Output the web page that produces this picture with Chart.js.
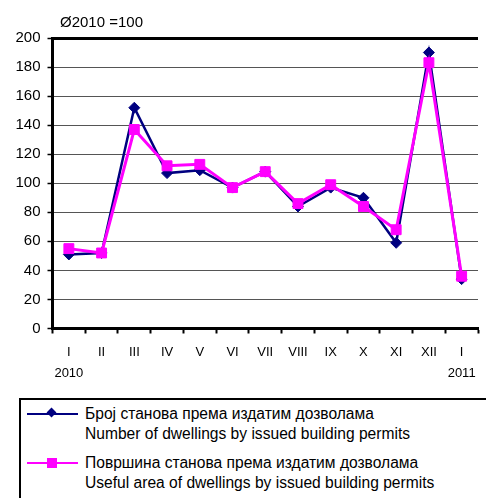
<!DOCTYPE html>
<html>
<head>
<meta charset="utf-8">
<script src="https://cdn.jsdelivr.net/npm/chart.js@4"></script>
<style>
  html, body { margin:0; padding:0; background:#fff; }
  #wrap { position:relative; width:486px; height:498px; overflow:hidden; font-family:"Liberation Sans", Arial, sans-serif; }
  #cbox { position:absolute; left:0; top:0; width:486px; height:398px; }
  #title { position:absolute; left:60px; top:13px; font-size:15px; color:#000; white-space:nowrap; }
  #legend { position:absolute; left:19px; top:398px; width:500px; height:130px; border:2px solid #000; box-sizing:border-box; }
  .entry { position:absolute; left:6px; }
  .sline { position:absolute; left:0; width:51px; }
  .txt { position:absolute; left:58px; font-size:15.6px; line-height:20.5px; white-space:nowrap; color:#000; }
  .mk { position:absolute; }
</style>
</head>
<body>
<div id="wrap">
  <div id="cbox"><canvas id="c"></canvas></div>
  <div id="title">Ø2010 =100</div>
  <div id="legend">
    <div class="entry" style="top:0px">
      <div class="sline" style="top:13px;height:2px;background:#000080"></div>
      <div class="mk" style="left:21px;top:9px;width:7px;height:7px;background:#000080;transform:rotate(45deg)"></div>
      <div class="txt" style="top:3.5px">Број станова према издатим дозволама<br>Number of dwellings by issued building permits</div>
    </div>
    <div class="entry" style="top:49px">
      <div class="sline" style="top:13px;height:2px;background:#FF00FF"></div>
      <div class="mk" style="left:20px;top:9px;width:10px;height:10px;background:#FF00FF"></div>
      <div class="txt" style="top:3.5px">Површина станова према издатим дозволама<br>Useful area of dwellings by issued building permits</div>
    </div>
  </div>
</div>
<script>
const categories = [["I","2010"],"II","III","IV","V","VI","VII","VIII","IX","X","XI","XII",["I","2011"]];
const dwellingsNumber = [51, 52, 152, 107, 109, 97, 108, 84, 97, 90, 59, 190, 34];
const dwellingsArea = [55, 52, 137, 112, 113, 97, 108, 86, 99, 84, 68, 183, 36];
const seriesNames = [
  "Број станова према издатим дозволама / Number of dwellings by issued building permits",
  "Површина станова према издатим дозволама / Useful area of dwellings by issued building permits"
];
const yMin = 0, yMax = 200, yStep = 20;

new Chart(document.getElementById('c'), {
  type: 'line',
  data: {
    labels: categories,
    datasets: [
      {
        label: seriesNames[0],
        data: dwellingsNumber,
        borderColor: '#000080',
        backgroundColor: '#000080',
        borderWidth: 2.5,
        pointStyle: 'rectRot',
        pointRadius: 5.5,
        pointBorderWidth: 1,
        tension: 0,
        order: 2
      },
      {
        label: seriesNames[1],
        data: dwellingsArea,
        borderColor: '#FF00FF',
        backgroundColor: '#FF00FF',
        borderWidth: 3,
        pointStyle: 'rect',
        pointRadius: 7,
        pointBorderWidth: 1,
        tension: 0,
        order: 1
      }
    ]
  },
  options: {
    responsive: true,
    maintainAspectRatio: false,
    animation: false,
    layout: { padding: { top: 38, left: 0, right: 0, bottom: 0 } },
    plugins: { legend: { display: false }, tooltip: { enabled: false }, title: { display: false } },
    scales: {
      x: {
        offset: true,
        grid: { offset: true, drawOnChartArea: false, drawTicks: true, tickLength: 5, tickColor: '#000', tickWidth: 2 },
        border: { color: '#000', width: 3 },
        ticks: { color: '#000', font: { family: 'Liberation Sans', size: 13, lineHeight: 1.6 }, padding: 9, maxRotation: 0, autoSkip: false },
        afterFit: (s) => { s.height = 69.5; }
      },
      y: {
        min: yMin, max: yMax,
        ticks: { stepSize: yStep, color: '#000', font: { family: 'Liberation Sans', size: 15 }, padding: 7 },
        grid: {
          color: (ctx) => (ctx.tick && ctx.tick.value === yMax) ? '#000' : '#555',
          lineWidth: (ctx) => (ctx.tick && ctx.tick.value === yMax) ? 3 : 1,
          tickColor: '#000', tickLength: 5, tickWidth: 1.5
        },
        border: { color: '#000', width: 3 },
        afterFit: (s) => { s.width = 52.5; }
      }
    }
  }
});
</script>
</body>
</html>
